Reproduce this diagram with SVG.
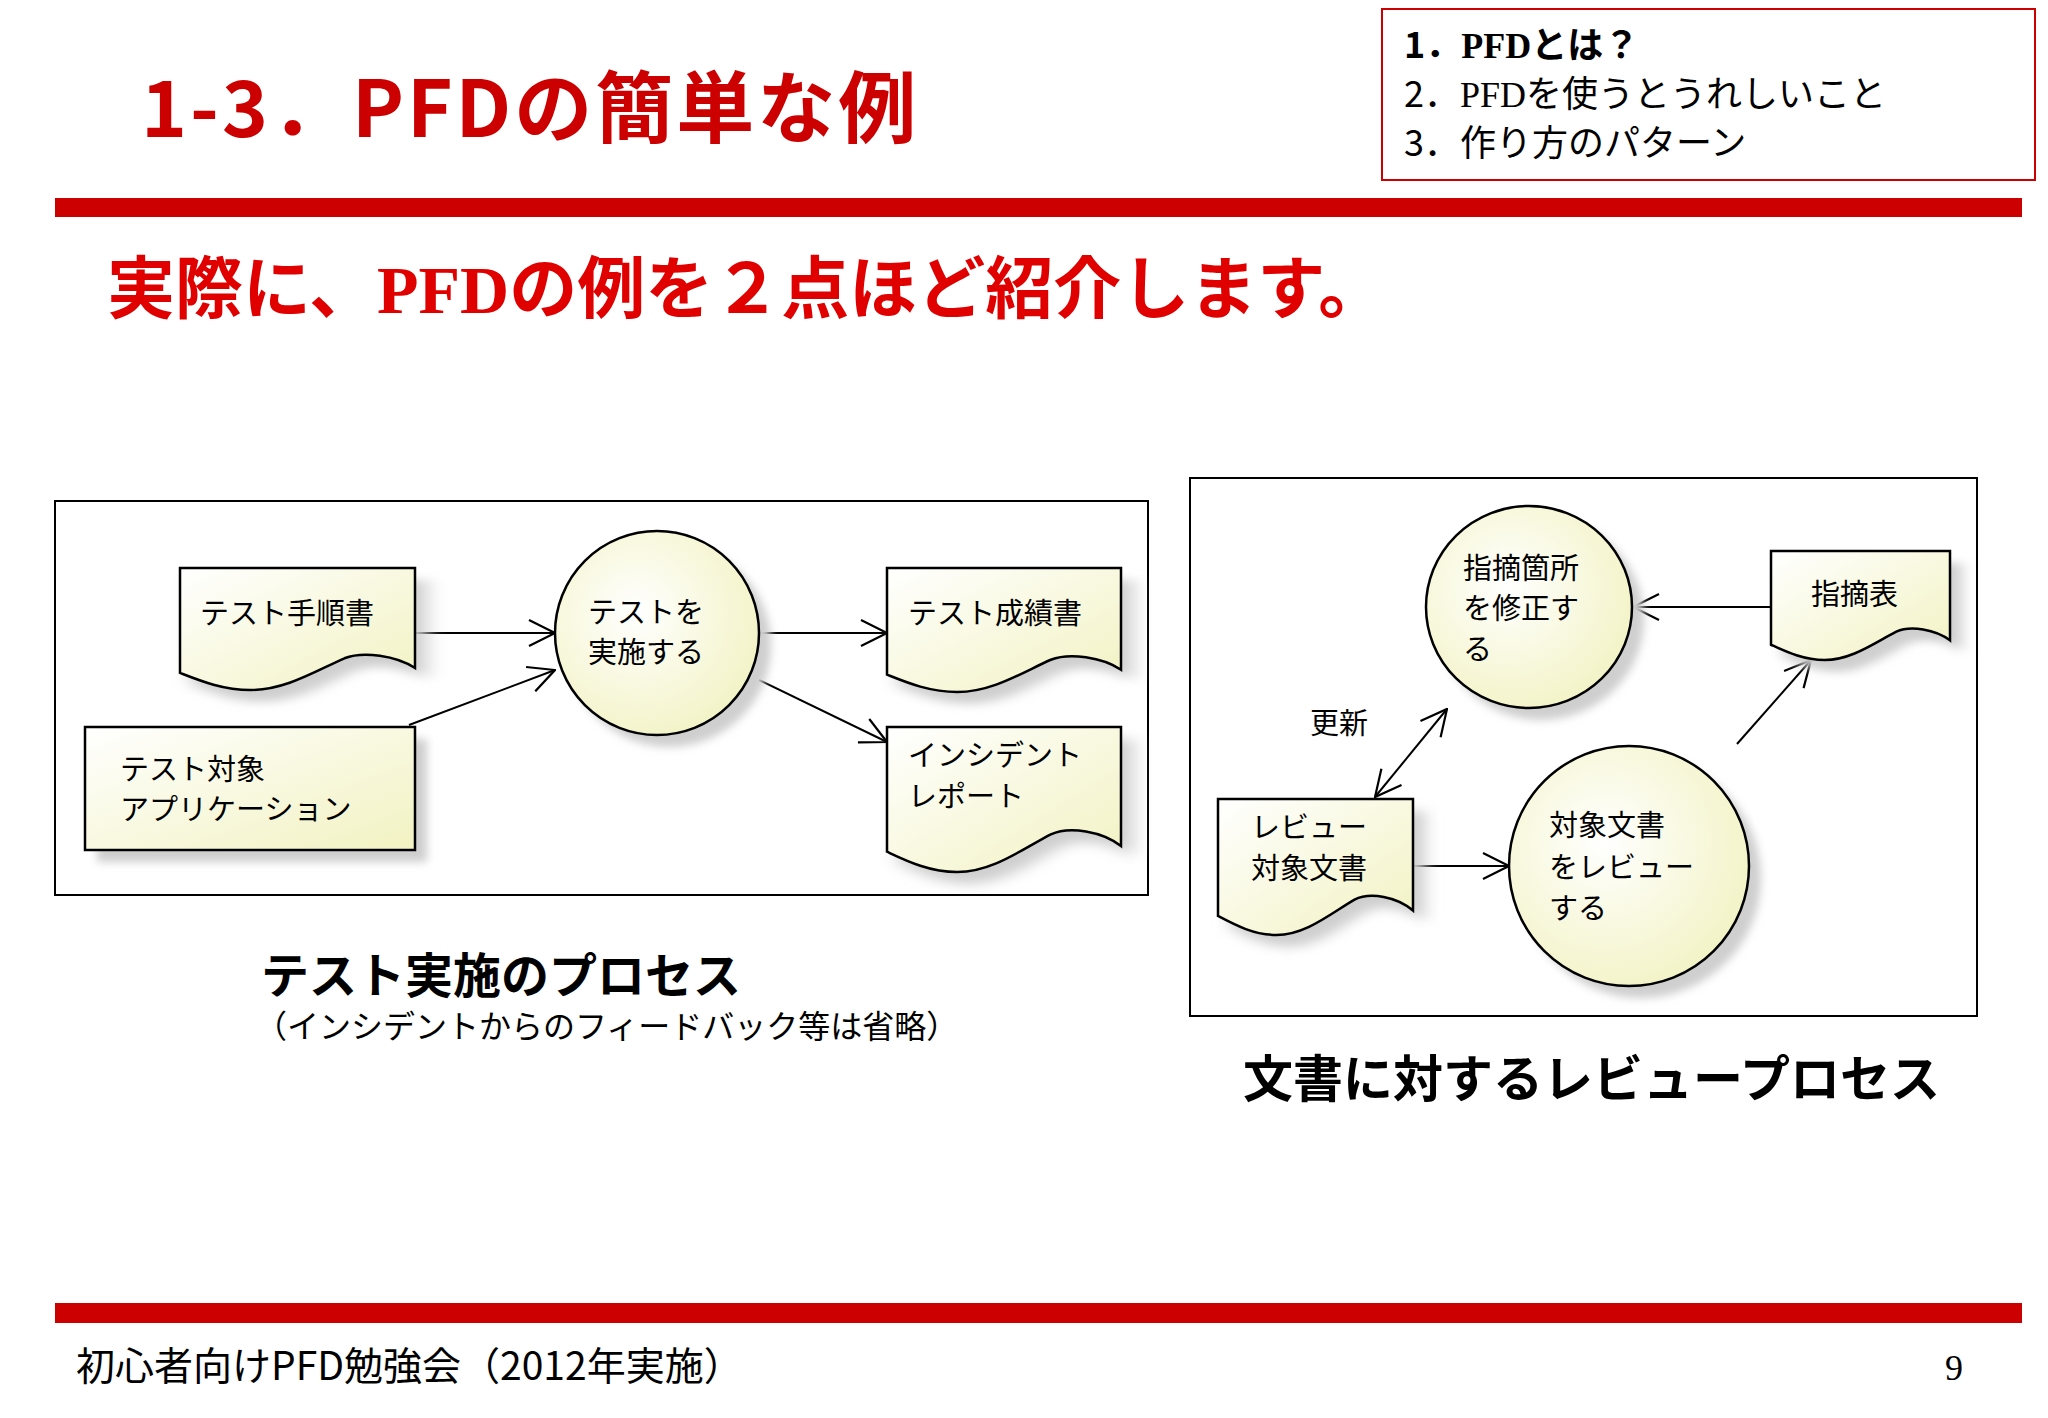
<svg xmlns="http://www.w3.org/2000/svg" width="2048" height="1418" viewBox="0 0 2048 1418">
<style>
text{font-family:"Noto Sans CJK JP","Noto Sans",sans-serif;fill:#000}
.n{font-size:29px}
.doc{fill:url(#g);stroke:#000;stroke-width:2.5}
.sh{fill:#cfcfcf;filter:url(#b)}
.c{stroke:#000;stroke-width:2;fill:none;marker-end:url(#a)}
.frame{fill:#fff;stroke:#000;stroke-width:2}
.sf{font-family:"Liberation Serif",serif}
</style>
<defs>
<linearGradient id="g" x1="0" y1="0" x2="1" y2="1"><stop offset="0" stop-color="#ffffff"/><stop offset="1" stop-color="#f2f2c2"/></linearGradient>
<radialGradient id="rg" cx="0.4" cy="0.4" r="0.7"><stop offset="0" stop-color="#ffffff"/><stop offset="1" stop-color="#f2f2c2"/></radialGradient>
<filter id="b" x="-0.2" y="-0.2" width="1.4" height="1.4"><feGaussianBlur stdDeviation="4"/></filter>
<path id="dp" vector-effect="non-scaling-stroke" d="M0,0 H100 V82 C92,72 78,68 70,74 C58,84 45,100 30,100 C18,100 8,92 0,86 Z"/>
<marker id="a" viewBox="0 0 28 28" refX="27" refY="14" markerWidth="28" markerHeight="28" markerUnits="userSpaceOnUse" orient="auto-start-reverse"><path d="M1,1 L27,14 L1,27" fill="none" stroke="#000" stroke-width="2.2"/></marker>
</defs>
<rect width="2048" height="1418" fill="#fff"/>
<text x="141" y="137" style="font-size:78px;font-weight:bold;fill:#cc0000;letter-spacing:3px">1-3．PFDの簡単な例</text>
<rect x="1382" y="9" width="653" height="171" fill="#fff" stroke="#cc0000" stroke-width="2"/>
<text x="1404" y="58" style="font-size:36px;font-weight:bold">1．<tspan class="sf">PFD</tspan>とは？</text>
<text x="1404" y="107" style="font-size:36px">2．<tspan class="sf">PFD</tspan>を使うとうれしいこと</text>
<text x="1404" y="156" style="font-size:36px">3．作り方のパターン</text>
<rect x="55" y="198" width="1967" height="19" fill="#cc0000"/>
<text x="107" y="313" style="font-size:68px;font-weight:bold;fill:#e00000">実際に、<tspan class="sf">PFD</tspan>の例を２点ほど紹介します。</text>

<rect class="frame" x="55" y="501" width="1093" height="394"/>
<rect class="frame" x="1190" y="478" width="787" height="538"/>

<g id="connectors">
<line class="c" x1="415" y1="633" x2="555" y2="633"/>
<line class="c" x1="409" y1="725" x2="555" y2="670"/>
<line class="c" x1="759" y1="633" x2="887" y2="633"/>
<line class="c" x1="759" y1="680" x2="887" y2="742"/>
<line class="c" x1="1771" y1="607" x2="1633" y2="607"/>
<line class="c" x1="1413" y1="866" x2="1509" y2="866"/>
<line class="c" x1="1737" y1="744" x2="1811" y2="660"/>
<line class="c" x1="1375" y1="797" x2="1447" y2="709" style="marker-start:url(#a)"/>
<text class="n" x="1310" y="734">更新</text>
</g>

<g id="n1"><use href="#dp" class="sh" transform="translate(192,580) scale(2.35,1.22)"/><use href="#dp" class="doc" transform="translate(180,568) scale(2.35,1.22)"/><text class="n" x="200" y="624">テスト手順書</text></g>
<g id="n2"><rect x="97" y="739" width="330" height="123" class="sh"/><rect x="85" y="727" width="330" height="123" fill="url(#g)" stroke="#000" stroke-width="2.5"/><text class="n" x="120" y="780">テスト対象</text><text class="n" x="120" y="820">アプリケーション</text></g>
<g id="n3"><circle cx="669" cy="645" r="102" class="sh"/><circle cx="657" cy="633" r="102" fill="url(#rg)" stroke="#000" stroke-width="2.5"/><text class="n" x="588" y="623">テストを</text><text class="n" x="588" y="663">実施する</text></g>
<g id="n4"><use href="#dp" class="sh" transform="translate(899,580) scale(2.34,1.24)"/><use href="#dp" class="doc" transform="translate(887,568) scale(2.34,1.24)"/><text class="n" x="908" y="624">テスト成績書</text></g>
<g id="n5"><use href="#dp" class="sh" transform="translate(899,739) scale(2.34,1.45)"/><use href="#dp" class="doc" transform="translate(887,727) scale(2.34,1.45)"/><text class="n" x="908" y="766">インシデント</text><text class="n" x="908" y="807">レポート</text></g>

<g id="n6"><ellipse cx="1541" cy="619" rx="103" ry="101" class="sh"/><ellipse cx="1529" cy="607" rx="103" ry="101" fill="url(#rg)" stroke="#000" stroke-width="2.5"/><text class="n" x="1463" y="579">指摘箇所</text><text class="n" x="1463" y="619">を修正す</text><text class="n" x="1463" y="660">る</text></g>
<g id="n7"><use href="#dp" class="sh" transform="translate(1783,563) scale(1.79,1.09)"/><use href="#dp" class="doc" transform="translate(1771,551) scale(1.79,1.09)"/><text class="n" x="1811" y="605">指摘表</text></g>
<g id="n8"><use href="#dp" class="sh" transform="translate(1230,811) scale(1.95,1.36)"/><use href="#dp" class="doc" transform="translate(1218,799) scale(1.95,1.36)"/><text class="n" x="1251" y="838">レビュー</text><text class="n" x="1251" y="879">対象文書</text></g>
<g id="n9"><circle cx="1641" cy="878" r="120" class="sh"/><circle cx="1629" cy="866" r="120" fill="url(#rg)" stroke="#000" stroke-width="2.5"/><text class="n" x="1549" y="836">対象文書</text><text class="n" x="1549" y="878">をレビュー</text><text class="n" x="1549" y="919">する</text></g>

<text x="261" y="993" style="font-size:48px;font-weight:bold">テスト実施のプロセス</text>
<text x="255" y="1038" style="font-size:32px">（インシデントからのフィードバック等は省略）</text>
<text x="1243" y="1097" style="font-size:50px;font-weight:bold">文書に対するレビュープロセス</text>
<rect x="55" y="1303" width="1967" height="20" fill="#cc0000"/>
<text x="76" y="1380" style="font-size:39px">初心者向けPFD勉強会（2012年実施）</text>
<text x="1945" y="1380" style="font-size:36px;font-family:'Liberation Serif',serif">9</text>
</svg>
